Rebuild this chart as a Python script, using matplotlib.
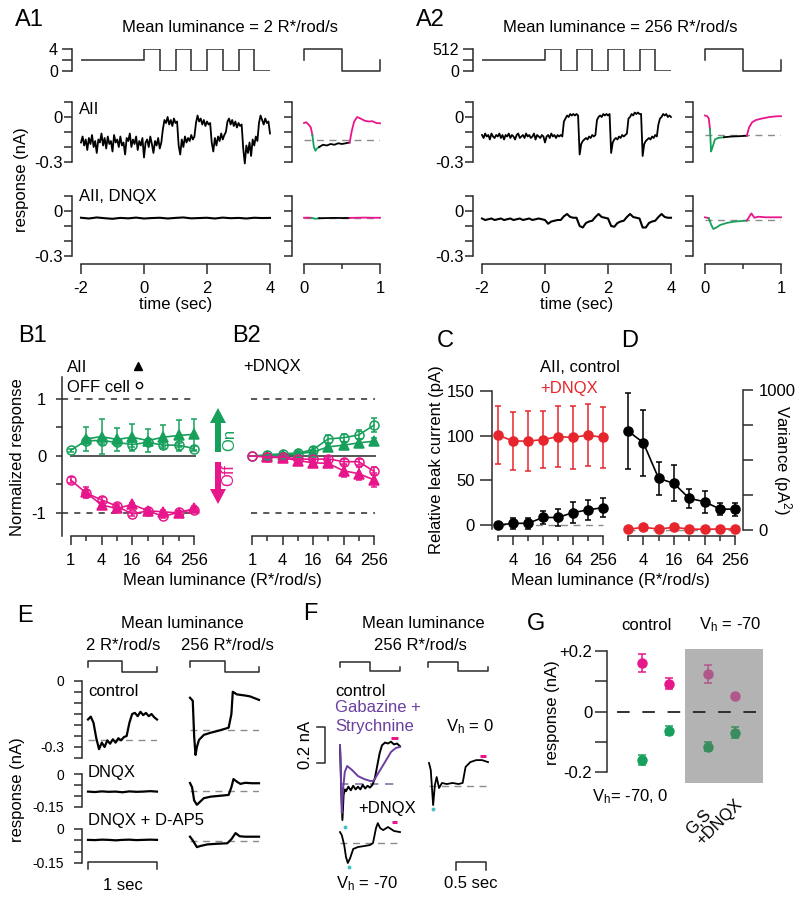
import numpy as np
import matplotlib
matplotlib.use("Agg")
import matplotlib.pyplot as plt
from matplotlib.patches import FancyArrow
from matplotlib.ticker import NullFormatter

plt.rcParams['font.family'] = ['Liberation Sans', 'DejaVu Sans']
plt.rcParams['font.size'] = 12
plt.rcParams['mathtext.default'] = 'regular'

W, H = 800, 901
PT = 72 / 100          # points per pixel at dpi 100

OFF = '#e8168b'
ON = '#17a05b'
RED = '#e6262c'
PURPLE = '#6b3fa0'
AXC = '#2b2b2b'
GREY = '#8c8c8c'

# ---------------- data ----------------
# A: stimulus (R*/rod/s), step edges in sec
STIM_EDGES = [-2, 0, 0.5, 1, 1.5, 2, 2.5, 3, 3.5, 4]
STIM_A1 = [2, 4, 0, 4, 0, 4, 0, 4, 0]
STIM_A2 = [256, 512, 0, 512, 0, 512, 0, 512, 0]
INSET_STIM_T = [0, 0, 0.5, 0.5, 1, 1]
INSET_STIM_FRAC = [0.5, 1, 1, 0, 0, 0.5]

# A: AII currents (nA), sampled every 50 ms from -2 to 4 s
A1_CTRL = [-0.17, -0.13, -0.19, -0.15, -0.22, -0.14, -0.18, -0.12, -0.20, -0.16,
           -0.24, -0.15, -0.17, -0.11, -0.19, -0.14, -0.21, -0.13, -0.18, -0.16,
           -0.23, -0.12, -0.17, -0.15, -0.20, -0.13, -0.19, -0.17, -0.25, -0.14,
           -0.16, -0.11, -0.20, -0.15, -0.18, -0.13, -0.22, -0.16, -0.19, -0.14,
           -0.27, -0.17, -0.15, -0.20, -0.13, -0.18, -0.24, -0.16, -0.19, -0.14,
           -0.21, -0.17,
           -0.08, -0.02, -0.04, 0.00, -0.05, -0.02, -0.06, -0.01, -0.04, -0.03,
           -0.19, -0.25, -0.15, -0.20, -0.13, -0.17, -0.14, -0.16, -0.12, -0.15, -0.13,
           -0.04, 0.01, -0.03, -0.01, -0.05, -0.02, -0.06, -0.03, -0.05, -0.04,
           -0.17, -0.23, -0.14, -0.19, -0.13, -0.16, -0.11, -0.15, -0.12, -0.10,
           -0.03, -0.01, -0.05, -0.02, -0.06, -0.03, -0.07, -0.04, -0.06, -0.05,
           -0.21, -0.31, -0.19, -0.24, -0.17, -0.26, -0.15, -0.19, -0.13, -0.16,
           -0.04, 0.01, -0.02, -0.05, -0.01, -0.04, -0.03, -0.11]
A2_CTRL = [-0.12, -0.14, -0.11, -0.13, -0.12, -0.15, -0.11, -0.13, -0.14, -0.12,
           -0.13, -0.11, -0.14, -0.12, -0.15, -0.12, -0.13, -0.11, -0.14, -0.12,
           -0.13, -0.15, -0.12, -0.11, -0.14, -0.13, -0.12, -0.14, -0.11, -0.13,
           -0.12, -0.14, -0.13, -0.11, -0.15, -0.12, -0.13, -0.14, -0.12, -0.13,
           -0.17, -0.13, -0.12, -0.14, -0.11, -0.13, -0.12, -0.14, -0.12, -0.13,
           -0.12, -0.13,
           -0.03, -0.01, 0.01, 0.00, 0.02, 0.01, 0.02, 0.01, 0.02, 0.01,
           -0.25, -0.18, -0.16, -0.15, -0.14, -0.15, -0.13, -0.14, -0.12, -0.13, -0.12,
           -0.02, 0.00, 0.01, 0.00, 0.02, 0.01, 0.02, 0.01, 0.02,
           -0.24, -0.17, -0.15, -0.14, -0.15, -0.13, -0.14, -0.12, -0.13, -0.12, -0.11,
           -0.01, 0.00, 0.02, 0.01, 0.03, 0.02, 0.03, 0.02, 0.02,
           -0.26, -0.18, -0.16, -0.15, -0.14, -0.15, -0.13, -0.14, -0.12, -0.13,
           -0.05, -0.01, 0.00, 0.02, 0.01, 0.02, 0.00, 0.01, 0.00]
# DNQX: A1 every 250 ms, A2 every 100 ms
A1_DNQX = [-0.045, -0.050, -0.043, -0.048, -0.052, -0.046, -0.049, -0.044, -0.050,
           -0.047, -0.045, -0.050, -0.046, -0.043, -0.049, -0.047, -0.045, -0.050,
           -0.044, -0.048, -0.046, -0.050, -0.045, -0.047, -0.046]
A2_DNQX = [-0.050, -0.060, -0.055, -0.050, -0.060, -0.055, -0.050, -0.060, -0.055, -0.050,
           -0.060, -0.055, -0.050, -0.060, -0.055, -0.050, -0.060, -0.055, -0.050, -0.055,
           -0.060, -0.085, -0.070, -0.065, -0.060, -0.060, -0.035, -0.020, -0.040, -0.045,
           -0.045, -0.100, -0.110, -0.080, -0.070, -0.065, -0.040, -0.020, -0.040, -0.045,
           -0.050, -0.100, -0.105, -0.080, -0.070, -0.065, -0.040, -0.020, -0.040, -0.045,
           -0.050, -0.110, -0.110, -0.080, -0.070, -0.065, -0.040, -0.020, -0.040, -0.045,
           -0.045]

# A insets: single cycle averages, colour windows (Off / On / plain / Off)
A1_IN_T = [0, 0.03, 0.06, 0.09, 0.11, 0.13, 0.15, 0.17, 0.2, 0.25, 0.3, 0.35, 0.4,
           0.45, 0.5, 0.55, 0.6, 0.63, 0.66, 0.7, 0.75, 0.8, 0.85, 0.9, 0.95, 1.0]
A1_IN_V = [-0.04, -0.035, -0.05, -0.07, -0.12, -0.2, -0.225, -0.21, -0.2, -0.185,
           -0.19, -0.18, -0.185, -0.175, -0.18, -0.175, -0.17, -0.09, -0.03, 0.0,
           -0.012, -0.025, -0.03, -0.028, -0.04, -0.042]
A1_IN_BOUNDS = [0, 0.11, 0.2, 0.6, 1.0]
A1_IN_DASH = -0.155
A1_IN_DNQX_T = [0, 0.05, 0.1, 0.15, 0.2, 0.3, 0.4, 0.5, 0.6, 0.7, 0.8, 0.9, 1.0]
A1_IN_DNQX_V = [-0.045, -0.044, -0.046, -0.052, -0.048, -0.047, -0.046, -0.047,
                -0.046, -0.045, -0.044, -0.045, -0.045]
A1_IN_DNQX_BOUNDS = [0, 0.1, 0.2, 0.6, 1.0]
A1_IN_DNQX_DASH = -0.045

A2_IN_T = [0, 0.03, 0.05, 0.065, 0.08, 0.1, 0.13, 0.17, 0.25, 0.35, 0.45, 0.55,
           0.58, 0.62, 0.67, 0.75, 0.85, 0.95, 1.0]
A2_IN_V = [0.01, 0.005, -0.01, -0.08, -0.23, -0.2, -0.15, -0.14, -0.135, -0.13,
           -0.128, -0.125, -0.07, -0.035, -0.02, -0.01, 0.0, 0.005, 0.005]
A2_IN_BOUNDS = [0, 0.065, 0.25, 0.55, 1.0]
A2_IN_DASH = -0.122
A2_IN_DNQX_T = [0, 0.05, 0.08, 0.11, 0.15, 0.2, 0.3, 0.4, 0.55, 0.58, 0.61, 0.65,
                0.7, 0.8, 1.0]
A2_IN_DNQX_V = [-0.042, -0.048, -0.09, -0.12, -0.11, -0.093, -0.078, -0.07, -0.064,
                -0.04, -0.016, -0.045, -0.038, -0.042, -0.042]
A2_IN_DNQX_BOUNDS = [0, 0.05, 0.55, 0.55, 1.0]
A2_IN_DNQX_DASH = -0.058

# B: normalized responses vs mean luminance
LUM = [1, 2, 4, 8, 16, 32, 64, 128, 256]
B1_AII_ON = [0.30, 0.34, 0.29, 0.33, 0.27, 0.33, 0.36, 0.38]
B1_AII_ON_ERR = [0.21, 0.31, 0.20, 0.24, 0.20, 0.21, 0.27, 0.27]
B1_AII_OFF = [-0.64, -0.86, -0.92, -0.85, -0.96, -0.98, -1.00, -0.92]
B1_AII_OFF_ERR = [0.10, 0.06, 0.04, 0.03, 0.03, 0.03, 0.03, 0.04]
B1_OFFC_ON = [0.10, 0.27, 0.27, 0.24, 0.20, 0.24, 0.19, 0.19, 0.13]
B1_OFFC_ON_ERR = [0.03, 0.05, 0.06, 0.05, 0.05, 0.05, 0.04, 0.04, 0.04]
B1_OFFC_OFF = [-0.42, -0.65, -0.77, -0.88, -1.02, -0.96, -1.06, -0.99, -0.94]
B1_OFFC_OFF_ERR = [0.06, 0.06, 0.05, 0.04, 0.03, 0.03, 0.03, 0.03, 0.03]

B2_AII_ON = [0.00, 0.02, 0.04, 0.07, 0.16, 0.19, 0.23, 0.26]
B2_AII_ON_ERR = [0.02, 0.02, 0.03, 0.04, 0.05, 0.05, 0.06, 0.06]
B2_AII_OFF = [-0.02, -0.03, -0.08, -0.12, -0.13, -0.26, -0.31, -0.42]
B2_AII_OFF_ERR = [0.02, 0.03, 0.04, 0.05, 0.06, 0.10, 0.12, 0.12]
B2_OFFC_ON = [0.00, 0.02, 0.04, 0.05, 0.11, 0.30, 0.32, 0.37, 0.54]
B2_OFFC_ON_ERR = [0.00, 0.02, 0.02, 0.03, 0.04, 0.07, 0.07, 0.08, 0.12]
B2_OFFC_OFF = [0.00, -0.02, -0.02, -0.05, -0.06, -0.05, -0.10, -0.10, -0.27]
B2_OFFC_OFF_ERR = [0.00, 0.02, 0.02, 0.03, 0.03, 0.04, 0.04, 0.05, 0.07]

# C, D: leak current and variance
CD_LUM = [2, 4, 8, 16, 32, 64, 128, 256]
C_DNQX = [100.7, 94, 94, 95.6, 99, 98, 100.7, 98]
C_DNQX_ERR = [32.5, 32, 34, 32, 34, 35, 35, 34]
C_CTRL = [0, 2, 2, 8.5, 8.5, 14, 17, 19.6]
C_CTRL_ERR = [2, 6, 6, 7, 10, 12, 11, 11]
D_CTRL = [707, 624, 369, 333, 226, 202, 150, 148]
D_CTRL_ERR = [270, 235, 120, 128, 70, 80, 45, 45]
D_DNQX = [5, 19, 7, 19, 7, 5, 7, 7]

# E: averaged responses (nA), 0..1 s
E_CTRL_2 = [-0.175, -0.162, -0.19, -0.26, -0.31, -0.28, -0.30, -0.27, -0.285, -0.265,
            -0.28, -0.26, -0.27, -0.255, -0.25, -0.19, -0.15, -0.145, -0.16, -0.14,
            -0.155, -0.145, -0.16, -0.15, -0.165, -0.175]
E_CTRL_2_DASH = -0.268
E_CTRL_256_T = [0, 0.04, 0.06, 0.08, 0.1, 0.13, 0.2, 0.3, 0.4, 0.5, 0.56, 0.6, 0.62,
                0.68, 0.8, 0.87, 1.0]
E_CTRL_256 = [-0.076, -0.09, -0.25, -0.336, -0.3, -0.268, -0.245, -0.235, -0.227,
              -0.218, -0.212, -0.15, -0.049, -0.061, -0.066, -0.07, -0.086]
E_CTRL_256_DASH = -0.223
E_DNQX_2 = [-0.080, -0.082, -0.079, -0.081, -0.080, -0.083, -0.079, -0.081, -0.080,
            -0.078, -0.080]
E_DNQX_256_T = [0, 0.03, 0.06, 0.1, 0.14, 0.2, 0.3, 0.4, 0.5, 0.56, 0.6, 0.63, 0.68,
                0.73, 0.8, 0.9, 1.0]
E_DNQX_256 = [-0.041, -0.06, -0.12, -0.14, -0.128, -0.11, -0.103, -0.1, -0.097,
              -0.095, -0.06, -0.023, -0.035, -0.045, -0.04, -0.042, -0.042]
E_DNQX_256_DASH = -0.077
E_AP5_2 = [-0.048, -0.049, -0.047, -0.048, -0.050, -0.048, -0.047, -0.049, -0.048,
           -0.047, -0.048]
E_AP5_256_T = [0, 0.04, 0.1, 0.15, 0.25, 0.4, 0.54, 0.6, 0.66, 0.72, 0.8, 1.0]
E_AP5_256 = [-0.034, -0.05, -0.08, -0.075, -0.068, -0.065, -0.063, -0.045, -0.018,
             -0.032, -0.034, -0.034]
E_AP5_256_DASH = -0.054

# F: responses relative to baseline (nA), 256 R*/rod/s
F_CTRL_T = [0, 0.01, 0.02, 0.04, 0.06, 0.08, 0.1, 0.14, 0.18, 0.22, 0.26, 0.3, 0.34,
            0.38, 0.42, 0.46, 0.5, 0.54, 0.58, 0.62, 0.66, 0.7, 0.75, 0.8, 0.85, 0.9,
            0.95, 1.0]
F_CTRL = [0.2, 0.1, -0.033, -0.2, -0.061, -0.03, -0.04, -0.015, -0.035, -0.01, -0.03,
          -0.015, -0.03, -0.005, -0.025, -0.01, -0.02, -0.005, 0.03, 0.1, 0.17, 0.215,
          0.23, 0.225, 0.235, 0.22, 0.225, 0.21]
F_GS_T = [0, 0.01, 0.03, 0.05, 0.08, 0.12, 0.2, 0.3, 0.4, 0.5, 0.56, 0.65, 0.75,
          0.85, 0.93, 1.0]
F_GS = [0.217, 0.133, -0.161, -0.033, 0.067, 0.1, 0.078, 0.044, 0.028, 0.017, 0.017,
        0.067, 0.122, 0.178, 0.2, 0.206]
F_DNQX_T = [0, 0.03, 0.07, 0.1, 0.13, 0.17, 0.22, 0.3, 0.4, 0.5, 0.55, 0.6, 0.63,
            0.67, 0.72, 0.8, 0.9, 1.0]
F_DNQX = [0.061, 0.044, -0.011, -0.078, -0.111, -0.083, -0.033, -0.022, -0.017,
          -0.011, 0.0, 0.083, 0.111, 0.083, 0.072, 0.089, 0.067, 0.061]
F_VH0_T = [0, 0.03, 0.07, 0.1, 0.13, 0.17, 0.22, 0.3, 0.4, 0.5, 0.57, 0.62, 0.7, 0.8,
           0.9, 1.0]
F_VH0 = [0.128, 0.089, -0.106, 0.006, 0.05, -0.011, 0.017, 0.011, 0.017, 0.011,
         0.017, 0.106, 0.133, 0.144, 0.144, 0.133]

# G: peak responses (nA)
G_X = [1.15, 2.05, 3.35, 4.25]
G_GROUP = ['control', 'control', 'drug', 'drug']
G_OFF = [0.162, 0.093, 0.124, 0.052]
G_OFF_ERR = [0.030, 0.019, 0.029, 0.005]
G_ON = [-0.159, -0.063, -0.115, -0.069]
G_ON_ERR = [0.018, 0.015, 0.014, 0.018]

# ---------------- helpers ----------------
fig = plt.figure(figsize=(W / 100, H / 100), dpi=100)
ov = fig.add_axes([0, 0, 1, 1], zorder=10)
ov.set_xlim(0, W)
ov.set_ylim(H, 0)
ov.axis('off')


def px_ax(x0, y0, x1, y1):
    ax = fig.add_axes([x0 / W, 1 - y1 / H, (x1 - x0) / W, (y1 - y0) / H])
    ax.patch.set_alpha(0)
    for s in ax.spines.values():
        s.set_visible(False)
        s.set_color(AXC)
        s.set_linewidth(1.1)
    ax.set_xticks([])
    ax.set_yticks([])
    return ax


def show_left(ax, out_px, ticks, labels, length=10, size=12, side='left', pad=2):
    ax.spines[side].set_visible(True)
    ax.spines[side].set_position(('outward', out_px * PT))
    ax.set_yticks(ticks, labels)
    if side == 'right':
        ax.yaxis.set_ticks_position('right')
        ax.tick_params(axis='y', right=True, labelright=True, left=False,
                       labelleft=False)
    ax.tick_params(axis='y', direction='out', length=length * PT, width=1.1,
                   color=AXC, labelsize=size, pad=pad)


def show_bottom(ax, out_px, ticks, labels, length=10, size=12, pad=5):
    ax.spines['bottom'].set_visible(True)
    ax.spines['bottom'].set_position(('outward', out_px * PT))
    ax.set_xticks(ticks, labels)
    ax.tick_params(axis='x', direction='out', length=length * PT, width=1.1,
                   color=AXC, labelsize=size, pad=pad)


def log_bottom(ax, major, minor, size=12):
    ax.spines['bottom'].set_visible(True)
    ax.spines['bottom'].set_bounds(min(major + minor), max(major + minor))
    ax.set_xticks(major, [str(v) for v in major])
    ax.set_xticks(minor, minor=True)
    ax.xaxis.set_minor_formatter(NullFormatter())
    ax.tick_params(axis='x', which='major', direction='out', length=9 * PT,
                   width=1.1, color=AXC, labelsize=size, pad=6)
    ax.tick_params(axis='x', which='minor', direction='out', length=5 * PT,
                   width=1.1, color=AXC)


def log2_lim(x0, x1, px_at_2, px_per_oct):
    return (2 * 2 ** ((x0 - px_at_2) / px_per_oct), 2 * 2 ** ((x1 - px_at_2) / px_per_oct))


def stim_ax(x0, y0, x1, y1):
    ax = px_ax(x0, y0, x1, y1)
    ax.plot(INSET_STIM_T, INSET_STIM_FRAC, color=AXC, lw=1.1, clip_on=False)
    ax.set_xlim(0, 1)
    ax.set_ylim(0, 1)
    return ax


def colored_trace(ax, t, v, bounds, colors, lw=1.3):
    t = np.asarray(t)
    v = np.asarray(v)
    for a, b, c in zip(bounds[:-1], bounds[1:], colors):
        m = (t >= a) & (t <= b)
        if m.sum() > 1:
            ax.plot(t[m], v[m], color=c, lw=lw, clip_on=False)


def errplot(ax, x, y, err, marker, color, mfc, ms=6.5, lw=1.2, cap=2):
    cont = ax.errorbar(x, y, yerr=err, fmt='-' + marker, color=color, mfc=mfc,
                       mec=color, ms=ms, lw=lw, capsize=cap, elinewidth=1.1,
                       capthick=1.1, mew=1.1)
    for art in cont.get_children():
        art.set_clip_on(False)


# ---------------- A ----------------
def draw_a(dx, label, title, title_x, stim, stim_max, ctrl, dnqx,
           in_t, in_v, in_b, in_dash, ind_t, ind_v, ind_b, ind_dash, in_cols):
    ov.text(15 + dx, 20, label, fontsize=17, va='center', ha='left')
    ov.text(title_x, 27, title, fontsize=12, ha='center', va='center')

    ax = px_ax(81 + dx, 49, 270 + dx, 71)
    ax.stairs(stim, STIM_EDGES, baseline=None, color=AXC, lw=1.1)
    ax.set_xlim(-2, 4)
    ax.set_ylim(0, stim_max)
    show_left(ax, 9, [0, stim_max / 2, stim_max], ['0', '', str(stim_max)],
              size=11.5, pad=3)

    stim_ax(304 + dx, 49, 380 + dx, 71)

    yt = [0.1, 0, -0.1, -0.2, -0.3]
    ylab = ['', '0', '', '', '-0.3']
    axc = px_ax(81 + dx, 102, 270 + dx, 162)
    axc.plot(np.linspace(-2, 4, len(ctrl)), ctrl, color='k', lw=1.3, clip_on=False)
    axc.set_xlim(-2, 4)
    axc.set_ylim(-0.3, 0.1)
    show_left(axc, 9, yt, ylab, length=8, pad=1)

    axd = px_ax(81 + dx, 196, 270 + dx, 256)
    axd.plot(np.linspace(-2, 4, len(dnqx)), dnqx, color='k', lw=1.5, clip_on=False)
    axd.set_xlim(-2, 4)
    axd.set_ylim(-0.3, 0.1)
    show_left(axd, 9, yt, ylab, length=8, pad=1)
    show_bottom(axd, 8, [-2, 0, 2, 4], ['-2', '0', '2', '4'])
    ov.text(176 + dx, 304, 'time (sec)', fontsize=12, ha='center', va='center')

    ai = px_ax(304 + dx, 102, 380 + dx, 162)
    ai.axhline(in_dash, color=GREY, lw=1, ls=(0, (5, 4)))
    colored_trace(ai, in_t, in_v, in_b, in_cols)
    ai.set_xlim(0, 1)
    ai.set_ylim(-0.3, 0.1)
    show_left(ai, 12, yt, [''] * 5, length=8)

    aid = px_ax(304 + dx, 196, 380 + dx, 256)
    aid.axhline(ind_dash, color=GREY, lw=1, ls=(0, (5, 4)))
    colored_trace(aid, ind_t, ind_v, ind_b, in_cols)
    aid.set_xlim(0, 1)
    aid.set_ylim(-0.3, 0.1)
    show_left(aid, 12, yt, [''] * 5, length=8)
    show_bottom(aid, 8, [0, 1], ['0', '1'])
    aid.set_xticks([0.5], minor=True)
    aid.tick_params(axis='x', which='minor', direction='out', length=5 * PT,
                    width=1.1, color=AXC)


draw_a(0, 'A1', 'Mean luminance = 2 R*/rod/s', 230, STIM_A1, 4, A1_CTRL, A1_DNQX,
       A1_IN_T, A1_IN_V, A1_IN_BOUNDS, A1_IN_DASH,
       A1_IN_DNQX_T, A1_IN_DNQX_V, A1_IN_DNQX_BOUNDS, A1_IN_DNQX_DASH,
       [OFF, ON, 'k', OFF])
draw_a(401, 'A2', 'Mean luminance = 256 R*/rod/s', 620, STIM_A2, 512, A2_CTRL, A2_DNQX,
       A2_IN_T, A2_IN_V, A2_IN_BOUNDS, A2_IN_DASH,
       A2_IN_DNQX_T, A2_IN_DNQX_V, A2_IN_DNQX_BOUNDS, A2_IN_DNQX_DASH,
       [OFF, ON, 'k', OFF])
ov.text(22, 180, 'response (nA)', rotation=90, ha='center', va='center', fontsize=12)
ov.text(79, 110, 'AII', fontsize=12, va='center')
ov.text(79, 197, 'AII, DNQX', fontsize=12, va='center')

# ---------------- B ----------------
B_YLIM = (-1.404, 1.386)


def draw_b(x0, x1, aii_on, aii_on_e, aii_off, aii_off_e, oc_on, oc_on_e, oc_off,
           oc_off_e, left):
    ax = px_ax(x0, 377, x1, 536)
    ax.set_xscale('log', base=2)
    ax.set_xlim(1, 256)
    ax.set_ylim(*B_YLIM)
    xl = 0.68 if left else 0.95
    for yv in (1, -1):
        ax.plot([xl, 270], [yv, yv], color=AXC, lw=1.1, ls=(0, (4, 4)), clip_on=False)
    ax.plot([1, 270], [0, 0], color='#555555', lw=1.4, clip_on=False)
    errplot(ax, LUM[1:], aii_on, aii_on_e, '^', ON, ON)
    errplot(ax, LUM[1:], aii_off, aii_off_e, '^', OFF, OFF)
    errplot(ax, LUM, oc_on, oc_on_e, 'o', ON, 'none')
    errplot(ax, LUM, oc_off, oc_off_e, 'o', OFF, 'none')
    log_bottom(ax, [1, 4, 16, 64, 256], [2, 8, 32, 128])
    if left:
        show_left(ax, 8.7, [1, 0.5, 0, -0.5, -1], ['1', '', '0', '', '-1'],
                  length=6, pad=7)
    return ax


draw_b(70.7, 194, B1_AII_ON, B1_AII_ON_ERR, B1_AII_OFF, B1_AII_OFF_ERR,
       B1_OFFC_ON, B1_OFFC_ON_ERR, B1_OFFC_OFF, B1_OFFC_OFF_ERR, True)
draw_b(252, 374, B2_AII_ON, B2_AII_ON_ERR, B2_AII_OFF, B2_AII_OFF_ERR,
       B2_OFFC_ON, B2_OFFC_ON_ERR, B2_OFFC_OFF, B2_OFFC_OFF_ERR, False)
ov.text(18, 336, 'B1', fontsize=17, va='center')
ov.text(232, 336, 'B2', fontsize=17, va='center')
ov.text(67, 367, 'AII', fontsize=12, va='center')
ov.text(67, 388, 'OFF cell', fontsize=12, va='center')
ov.plot([138], [366], marker='^', color='k', ms=6)
ov.plot([139], [385], marker='o', mfc='none', mec='k', ms=4.5, mew=1)
ov.text(243, 366, '+DNQX', fontsize=12, va='center')
ov.text(18, 457, 'Normalized response', rotation=90, ha='center', va='center',
        fontsize=12)
ov.text(222, 580, 'Mean luminance (R*/rod/s)', ha='center', va='center', fontsize=12)
ov.add_patch(FancyArrow(218, 452, 0, -44, width=6, head_width=16, head_length=15,
                        length_includes_head=True, color=ON, lw=0))
ov.add_patch(FancyArrow(218, 462, 0, 42, width=6, head_width=16, head_length=15,
                        length_includes_head=True, color=OFF, lw=0))
ov.text(230, 440, 'On', rotation=90, color=ON, ha='center', va='center', fontsize=12)
ov.text(229, 475, 'Off', rotation=90, color=OFF, ha='center', va='center', fontsize=12)

# ---------------- C ----------------
axC = px_ax(492, 391, 608, 536)
axC.set_xscale('log', base=2)
axC.set_xlim(*log2_lim(492, 608, 498, 15))
axC.set_ylim(-12.2, 150)
axC.plot([2, 256], [0, 0], color=GREY, lw=1, ls=(0, (5, 4)))
errplot(axC, CD_LUM, C_DNQX, C_DNQX_ERR, 'o', RED, RED, ms=6.5)
errplot(axC, CD_LUM, C_CTRL, C_CTRL_ERR, 'o', 'k', 'k', ms=6.5)
show_left(axC, 0, [0, 50, 100, 150], ['0', '50', '100', '150'], length=12, pad=4)
axC.spines['left'].set_bounds(-4, 150)
log_bottom(axC, [4, 16, 64, 256], [2, 8, 32, 128])
ov.text(437, 341, 'C', fontsize=17, va='center')
ov.text(436, 460, 'Relative leak current (pA)', rotation=90, ha='center',
        va='center', fontsize=12)
ov.text(540, 367, 'AII, control', fontsize=12, va='center')
ov.text(540, 388, '+DNQX', fontsize=12, va='center', color=RED)

# ---------------- D ----------------
axD = px_ax(620, 390, 743, 536)
axD.set_xscale('log', base=2)
axD.set_xlim(*log2_lim(620, 743, 628, 15.3))
axD.set_ylim(-42.9, 1000)
axD.plot([2, 256 * 1.2], [0, 0], color=GREY, lw=1, ls=(0, (5, 4)))
errplot(axD, CD_LUM, D_CTRL, D_CTRL_ERR, 'o', 'k', 'k', ms=6.5)
errplot(axD, CD_LUM, D_DNQX, None, 'o', RED, RED, ms=6.5)
show_left(axD, 0, [0, 250, 500, 750, 1000], ['0', '', '', '', '1000'], side='right',
          pad=4)
axD.spines['right'].set_bounds(0, 1000)
log_bottom(axD, [4, 16, 64, 256], [2, 8, 32, 128])
ov.text(630, 341, 'D', fontsize=17, ha='center', va='center')
ov.text(782, 460, 'Variance (pA$^2$)', rotation=270, ha='center', va='center',
        fontsize=12)
ov.text(610, 580, 'Mean luminance (R*/rod/s)', ha='center', va='center', fontsize=12)

# ---------------- E ----------------
ov.text(17, 616, 'E', fontsize=17, va='center')
ov.text(182, 624, 'Mean luminance', fontsize=12, ha='center', va='center')
ov.text(123, 645, '2 R*/rod/s', fontsize=12, ha='center', va='center')
ov.text(227, 645, '256 R*/rod/s', fontsize=12, ha='center', va='center')
stim_ax(88, 661, 157, 672)
stim_ax(190, 661, 259, 672)

E_ROWS = [
    (681, 758, -0.35, [0, -0.05, -0.1, -0.15, -0.2, -0.25, -0.3, -0.35],
     ['0', '', '', '', '', '', '-0.3', ''],
     E_CTRL_2, E_CTRL_2_DASH, E_CTRL_256_T, E_CTRL_256, E_CTRL_256_DASH),
    (774, 807, -0.15, [0, -0.05, -0.1, -0.15], ['0', '', '', '-0.15'],
     E_DNQX_2, None, E_DNQX_256_T, E_DNQX_256, E_DNQX_256_DASH),
    (829, 863, -0.15, [0, -0.05, -0.1, -0.15], ['0', '', '', '-0.15'],
     E_AP5_2, None, E_AP5_256_T, E_AP5_256, E_AP5_256_DASH),
]
for y0, y1, ymin, yt, ylab, lv, ldash, rt, rv, rdash in E_ROWS:
    axl = px_ax(88, y0, 157, y1)
    if ldash is not None:
        axl.axhline(ldash, color=GREY, lw=1, ls=(0, (5, 4)))
    axl.plot(np.linspace(0, 1, len(lv)), lv, color='k', lw=1.6, clip_on=False)
    axl.set_xlim(0, 1)
    axl.set_ylim(ymin, 0)
    show_left(axl, 6, yt, ylab, length=8, size=10, pad=7)
    axr = px_ax(190, y0, 259, y1)
    axr.axhline(rdash, color=GREY, lw=1, ls=(0, (5, 4)))
    axr.plot(rt, rv, color='k', lw=1.6, clip_on=False)
    axr.set_xlim(0, 1)
    axr.set_ylim(ymin, 0)
    if y0 == 829:
        # 1 s scale bar
        axl.plot([0, 0, 1, 1], [-0.176, -0.145, -0.145, -0.176], color=AXC,
                 lw=1.1, clip_on=False)
ov.text(88, 691, 'control', fontsize=12, va='center')
ov.text(88, 773, 'DNQX', fontsize=12, va='center')
ov.text(88, 820, 'DNQX + D-AP5', fontsize=12, va='center')
ov.text(123, 885, '1 sec', fontsize=12, ha='center', va='center')
ov.text(18, 790, 'response (nA)', rotation=90, ha='center', va='center', fontsize=12)

# ---------------- F ----------------
ov.text(303, 614, 'F', fontsize=17, va='center')
ov.text(423, 624, 'Mean luminance', fontsize=12, ha='center', va='center')
ov.text(420, 645, '256 R*/rod/s', fontsize=12, ha='center', va='center')
stim_ax(340, 662, 400, 671)
stim_ax(428, 662, 488, 671)

axF = px_ax(340, 720, 400, 830)
axF.set_xlim(0, 1)
axF.set_ylim(-0.2556, 0.3556)
axF.plot([0, 0.95], [0, 0], color='#8a70a8', lw=1.2, ls=(0, (5, 4)))
axF.plot(F_CTRL_T, F_CTRL, color='k', lw=1.4, clip_on=False)
axF.plot(F_GS_T, F_GS, color=PURPLE, lw=1.4, clip_on=False)
axF.plot([0.85, 0.97], [0.256, 0.256], color=OFF, lw=2.2, solid_capstyle='butt')
axF.plot([0.08], [-0.239], marker='o', ms=1.8, color='#46c0c0', clip_on=False)
# 0.2 nA scale bar
axF.plot([-0.38, -0.25, -0.25, -0.38], [0.317, 0.317, 0.117, 0.117], color=AXC,
         lw=1.1, clip_on=False)

axFd = px_ax(340, 815, 400, 870)
axFd.set_xlim(0, 1)
axFd.set_ylim(-0.15, 0.156)
axFd.plot([0, 0.95], [0, 0], color=GREY, lw=1, ls=(0, (5, 4)))
axFd.plot(F_DNQX_T, F_DNQX, color='k', lw=1.3, clip_on=False)
axFd.plot([0.87, 0.95], [0.117, 0.117], color=OFF, lw=2.2, solid_capstyle='butt')
axFd.plot([0.15], [-0.135], marker='o', ms=1.8, color='#46c0c0', clip_on=False)

axF0 = px_ax(429, 745, 488, 815)
axF0.set_xlim(0, 1)
axF0.set_ylim(-0.161, 0.228)
axF0.plot([0, 1], [0, 0], color=GREY, lw=1, ls=(0, (5, 4)))
axF0.plot(F_VH0_T, F_VH0, color='k', lw=1.3, clip_on=False)
axF0.plot([0.86, 0.97], [0.167, 0.167], color=OFF, lw=2.2, solid_capstyle='butt')
axF0.plot([0.07], [-0.125], marker='o', ms=1.8, color='#46c0c0', clip_on=False)
# 0.5 s scale bar
axF0.plot([0.46, 0.46, 0.96, 0.96], [-0.467, -0.422, -0.422, -0.467], color=AXC,
          lw=1.1, clip_on=False)

ov.text(335, 691, 'control', fontsize=12, va='center')
ov.text(335, 708, 'Gabazine +', fontsize=12, va='center', color=PURPLE)
ov.text(335, 727, 'Strychnine', fontsize=12, va='center', color=PURPLE)
ov.text(306, 745, '0.2 nA', rotation=90, fontsize=12, ha='center', va='center')
ov.text(470, 727, 'V$_h$ = 0', fontsize=12, ha='center', va='center')
ov.text(358, 809, '+DNQX', fontsize=12, va='center')
ov.text(367, 884, 'V$_h$ = -70', fontsize=12, ha='center', va='center')
ov.text(471, 884, '0.5 sec', fontsize=12, ha='center', va='center')

# ---------------- G ----------------
axG = px_ax(607, 649, 763, 783)
axG.set_xlim(0, 5.2)
axG.set_ylim(-0.235, 0.207)
axG.axvspan(2.6, 5.2, color='#b3b3b3', lw=0, zorder=0)
axG.axhline(0, xmin=10 / 156, xmax=1, color='#222222', lw=1.3, ls=(0, (7, 7)))
group_col = {'control': (OFF, ON), 'drug': ('#b0578b', '#3b8c5e')}
for x, g, yo, eo, yn, en in zip(G_X, G_GROUP, G_OFF, G_OFF_ERR, G_ON, G_ON_ERR):
    co, cn = group_col[g]
    axG.errorbar([x], [yo], yerr=[eo], fmt='o', color=co, ms=6.5, capsize=3,
                 elinewidth=1.1, capthick=1.1)
    axG.errorbar([x], [yn], yerr=[en], fmt='o', color=cn, ms=6.5, capsize=3,
                 elinewidth=1.1, capthick=1.1)
show_left(axG, 0, [0.2, 0.1, 0, -0.1, -0.2], ['+0.2', '', '0', '', '-0.2'],
          length=12, pad=2)
axG.spines['left'].set_bounds(-0.2, 0.2)
ov.text(527, 624, 'G', fontsize=17, va='center')
ov.text(646, 625, 'control', fontsize=12, ha='center', va='center')
ov.text(730, 625, 'V$_h$ = -70', fontsize=12, ha='center', va='center')
ov.text(553, 713, 'response (nA)', rotation=90, ha='center', va='center', fontsize=12)
ov.text(630, 797, 'V$_h$= -70, 0', fontsize=12, ha='center', va='center')
ov.text(714, 817, 'G,S\n+DNQX', rotation=45, fontsize=12, ha='center', va='center',
        linespacing=1.0, multialignment='left')

fig.savefig('out.png', dpi=100)
